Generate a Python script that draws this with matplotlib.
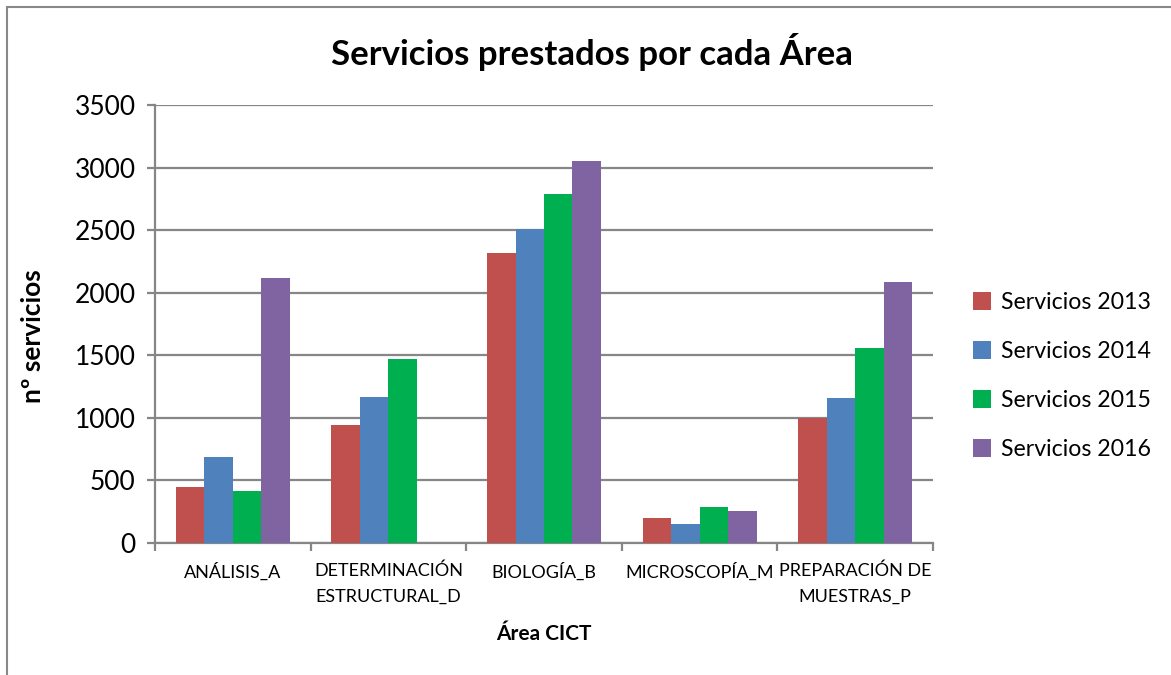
import matplotlib
matplotlib.use("Agg")
import matplotlib.pyplot as plt
from matplotlib.patches import Rectangle
import numpy as np

plt.rcParams['font.family'] = ['Lato', 'DejaVu Sans']

categories = ["ANÁLISIS_A", "DETERMINACIÓN\nESTRUCTURAL_D", "BIOLOGÍA_B",
              "MICROSCOPÍA_M", "PREPARACIÓN DE\nMUESTRAS_P"]
series_names = ["Servicios 2013", "Servicios 2014", "Servicios 2015", "Servicios 2016"]
s2013 = [447, 942, 2318, 197, 1000]
s2014 = [688, 1166, 2510, 150, 1155]
s2015 = [419, 1467, 2790, 286, 1558]
s2016 = [2117, 0, 3056, 259, 2085]
colors = ["#C0504D", "#4F81BD", "#00B050", "#8064A2"]
yticks = [0, 500, 1000, 1500, 2000, 2500, 3000, 3500]

W, H = 1171, 675
fig = plt.figure(figsize=(W / 100, H / 100), dpi=100)
fig.patch.set_facecolor("white")
# outer chart border (right and bottom edges fall outside the crop)
fig.patches.append(Rectangle((7 / W, -10 / H), (W + 20) / W, (H - 7 + 10) / H,
                             transform=fig.transFigure, fill=False,
                             edgecolor="#888888", linewidth=1.5))

ax = fig.add_axes([155 / W, (H - 543) / H, (933 - 155) / W, (543 - 105) / H])
x = np.arange(len(categories))
bw = 0.183
series = [s2013, s2014, s2015, s2016]
for i, (vals, c, name) in enumerate(zip(series, colors, series_names)):
    ax.bar(x + (i - 1.5) * bw, vals, width=bw, color=c, label=name, zorder=3)

ax.set_xlim(-0.5, len(categories) - 0.5)
ax.set_ylim(0, 3500)
ax.set_yticks(yticks)
ax.set_yticklabels([str(v) for v in yticks], fontsize=19)
ax.yaxis.grid(True, color="#868686", linewidth=1.6, zorder=0)
ax.set_xticks(x)
ax.set_xticklabels(categories, fontsize=13, linespacing=1.75)
ax.set_xticks(np.arange(-0.5, len(categories)), minor=True)
ax.tick_params(axis="x", which="major", length=0, pad=14)
ax.tick_params(axis="x", which="minor", length=6, color="#868686", width=1.6)
ax.tick_params(axis="y", length=6, color="#868686", width=1.6, pad=8)
for s in ["top", "right"]:
    ax.spines[s].set_visible(False)
for s in ["left", "bottom"]:
    ax.spines[s].set_color("#868686")
    ax.spines[s].set_linewidth(1.6)

ax.set_xlabel("Área CICT", fontsize=15, fontweight="bold", labelpad=14)
ax.set_ylabel("nº servicios", fontsize=19, fontweight="bold")
ax.yaxis.set_label_coords(-0.141, 0.473)
fig.text(592 / W, 1 - 52 / H, "Servicios prestados por cada Área", fontsize=25,
         fontweight="bold", ha="center", va="center")

leg = ax.legend(loc="center left", bbox_to_anchor=(952 / W, 1 - 376 / H),
                bbox_transform=fig.transFigure, frameon=False, fontsize=16.7,
                handlelength=0.8, handleheight=0.8, handletextpad=0.4,
                labelspacing=1.2)

fig.savefig("out.png", dpi=100, facecolor="white")
